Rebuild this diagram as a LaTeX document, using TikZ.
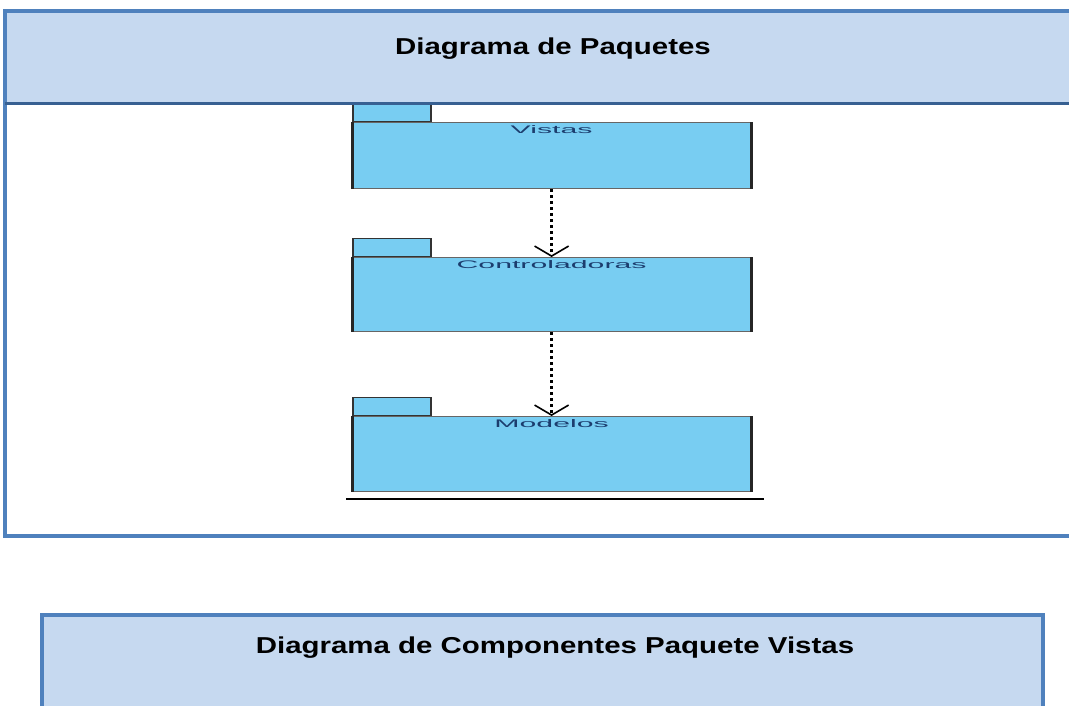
\documentclass[tikz,border=0pt]{standalone}
\usepackage{fontspec}
\setmainfont{Liberation Sans}
\usepackage{graphicx}
\usetikzlibrary{arrows.meta,positioning}

\definecolor{cabecera}{HTML}{C6D9F0}
\definecolor{borde}{HTML}{4F81BD}
\definecolor{linea}{HTML}{376092}
\definecolor{paquete}{HTML}{78CDF2}
\definecolor{texto}{HTML}{1C3D6E}

\begin{document}
\begin{tikzpicture}[x=1pt, y=-1pt,
        titulo/.style={font=\fontsize{23}{27}\selectfont\bfseries},
        cuerpo/.style={fill=paquete, draw=black!60, line width=1.2pt, minimum width=398pt, inner sep=0pt},
        pestana/.style={fill=paquete, draw=black!80, line width=1.5pt, minimum width=78pt, minimum height=18pt, inner sep=0pt},
        etiqueta/.style={text=texto, font=\fontsize{11}{13}\selectfont, inner sep=0pt},
        dep/.style={line width=2.6pt, dash pattern=on 3pt off 3pt, -{Straight Barb[length=10pt, width=34pt, line width=1.6pt]}}]
        \useasboundingbox (0,0) rectangle (1069,705);

        % tabla superior
        \fill[cabecera] (5,11) rectangle (1075,103);
        \draw[borde, line width=3.5pt] (1075,11) -- (5,11) -- (5,536) -- (1075,536);
        \draw[linea, line width=3pt] (5,103) -- (1075,103);
        \node[titulo] (t1) at (553,49) {\scalebox{1.28}[1]{Diagrama de Paquetes}};

        % paquetes
        \node[pestana, anchor=south west] (tabV) at (352,122) {};
        \draw[linea, line width=3pt] (350,103) -- (432,103);
        \node[cuerpo, minimum height=66pt, anchor=north west] (vistas) at (352,122) {};
        \node[pestana, anchor=south west] (tabC) at (352,257) {};
        \node[cuerpo, minimum height=74pt, anchor=north west] (contr) at (352,257) {};
        \node[pestana, anchor=south west] (tabM) at (352,416) {};
        \node[cuerpo, minimum height=75pt, anchor=north west] (modelos) at (352,416) {};
        \foreach \p in {vistas,contr,modelos} {
            \draw[black!85, line width=3pt] (\p.north west) -- (\p.south west);
            \draw[black!85, line width=3pt] (\p.north east) -- (\p.south east);
        }
        \node[etiqueta, below=3pt of vistas.north] (lv) {\scalebox{2.75}[1]{Vistas}};
        \node[etiqueta, below=3pt of contr.north] (lc) {\scalebox{2.75}[1]{Controladoras}};
        \node[etiqueta, below=3pt of modelos.north] (lm) {\scalebox{2.75}[1]{Modelos}};

        \draw[dep] (vistas.south) -- (contr.north);
        \draw[dep] (contr.south) -- (modelos.north);
        \draw[black, line width=2.5pt] ([xshift=-6pt, yshift=-7pt]modelos.south west) -- ([xshift=13pt, yshift=-7pt]modelos.south east);

        % tabla inferior
        \fill[cabecera] (42,615) rectangle (1043,710);
        \draw[borde, line width=3.5pt] (42,710) -- (42,615) -- (1043,615) -- (1043,710);
        \node[titulo] (t2) at (555,648) {\scalebox{1.28}[1]{Diagrama de Componentes Paquete Vistas}};
\end{tikzpicture}
\end{document}
